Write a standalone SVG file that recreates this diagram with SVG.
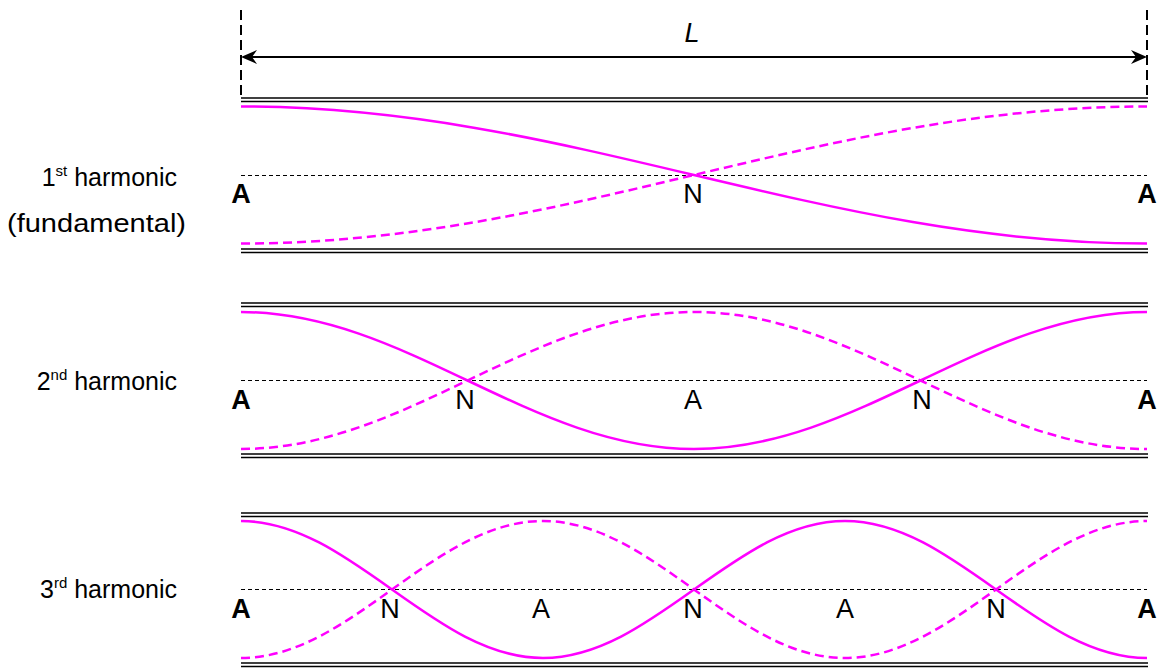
<svg xmlns="http://www.w3.org/2000/svg" width="1157" height="668" viewBox="0 0 1157 668">
<style>
.wall{stroke:#000;stroke-width:1.5;fill:none}
.axis{stroke:#000;stroke-width:1;stroke-dasharray:4 3;fill:none}
.sol{stroke:#ff00ff;stroke-width:2.5;fill:none}
.dsh{stroke:#ff00ff;stroke-width:2.5;fill:none;stroke-dasharray:9 5}
.edge{stroke:#000;stroke-width:2;stroke-dasharray:10 5;fill:none}
.lbl{font-family:"Liberation Sans",Arial,sans-serif;font-size:25px;fill:#000}
.hl{font-family:"Liberation Sans",Arial,sans-serif;font-size:25px;fill:#000;text-anchor:end}
.nd{font-family:"Liberation Sans",Arial,sans-serif;font-size:27px;fill:#000;text-anchor:middle}
.an{font-family:"Liberation Sans",Arial,sans-serif;font-size:27px;font-weight:bold;fill:#000;text-anchor:middle}
.sup{font-size:15px}
</style>
<rect width="1157" height="668" fill="#fff"/>
<g id="length">
<line class="edge" x1="241" y1="10" x2="241" y2="97"/>
<line class="edge" x1="1147" y1="10" x2="1147" y2="97"/>
<line x1="250" y1="57" x2="1138" y2="57" stroke="#000" stroke-width="2"/>
<path d="M241,57 L257,50 L252,57 L257,64 Z" fill="#000"/>
<path d="M1147,57 L1131,50 L1136,57 L1131,64 Z" fill="#000"/>
<text class="nd" x="692" y="42" font-style="italic">L</text>
</g>
<g id="harmonic1">
<line class="wall" x1="241" y1="98" x2="1148" y2="98"/>
<line class="wall" x1="241" y1="101.5" x2="1148" y2="101.5"/>
<line class="wall" x1="241" y1="249" x2="1148" y2="249"/>
<line class="wall" x1="241" y1="252.5" x2="1148" y2="252.5"/>
<line class="axis" x1="241" y1="175.5" x2="1147" y2="175.5"/>
<path class="sol" d="M241,106.5 C570.2,106.5 817.8,243.5 1147,243.5"/>
<path class="dsh" d="M241,243.5 C570.2,243.5 817.8,106.5 1147,106.5"/>
<text class="hl" x="177" y="186">1<tspan class="sup" dy="-10">st</tspan><tspan dy="10"> harmonic</tspan></text>
<text class="lbl" x="7" y="232" textLength="179" lengthAdjust="spacingAndGlyphs">(fundamental)</text>
<text class="an" x="241" y="203">A</text>
<text class="an" x="1147" y="203">A</text>
<text class="nd" x="693" y="203">N</text>
</g>
<g id="harmonic2">
<line class="wall" x1="241" y1="303" x2="1148" y2="303"/>
<line class="wall" x1="241" y1="306.5" x2="1148" y2="306.5"/>
<line class="wall" x1="241" y1="454" x2="1148" y2="454"/>
<line class="wall" x1="241" y1="457.5" x2="1148" y2="457.5"/>
<line class="axis" x1="241" y1="380.5" x2="1147" y2="380.5"/>
<path class="sol" d="M241,312 C405.6,312 529.4,449 694,449 S982.4,312 1147,312"/>
<path class="dsh" d="M241,449 C405.6,449 529.4,312 694,312 S982.4,449 1147,449"/>
<text class="hl" x="177" y="390">2<tspan class="sup" dy="-10">nd</tspan><tspan dy="10"> harmonic</tspan></text>
<text class="an" x="241" y="409">A</text>
<text class="an" x="1147" y="409">A</text>
<text class="nd" x="465" y="409">N</text>
<text class="nd" x="693" y="409">A</text>
<text class="nd" x="922" y="409">N</text>
</g>
<g id="harmonic3">
<line class="wall" x1="241" y1="513" x2="1148" y2="513"/>
<line class="wall" x1="241" y1="516.5" x2="1148" y2="516.5"/>
<line class="wall" x1="241" y1="663" x2="1148" y2="663"/>
<line class="wall" x1="241" y1="666.5" x2="1148" y2="666.5"/>
<line class="axis" x1="241" y1="589.5" x2="1147" y2="589.5"/>
<path class="sol" d="M241,521 C350.7,521 433.3,658 543,658 S735.3,521 845,521 S1037.3,658 1147,658"/>
<path class="dsh" d="M241,658 C350.7,658 433.3,521 543,521 S735.3,658 845,658 S1037.3,521 1147,521"/>
<text class="hl" x="177" y="598">3<tspan class="sup" dy="-10">rd</tspan><tspan dy="10"> harmonic</tspan></text>
<text class="an" x="241" y="618">A</text>
<text class="an" x="1147" y="618">A</text>
<text class="nd" x="390" y="618">N</text>
<text class="nd" x="541" y="618">A</text>
<text class="nd" x="693" y="618">N</text>
<text class="nd" x="845" y="618">A</text>
<text class="nd" x="996" y="618">N</text>
</g>
</svg>
